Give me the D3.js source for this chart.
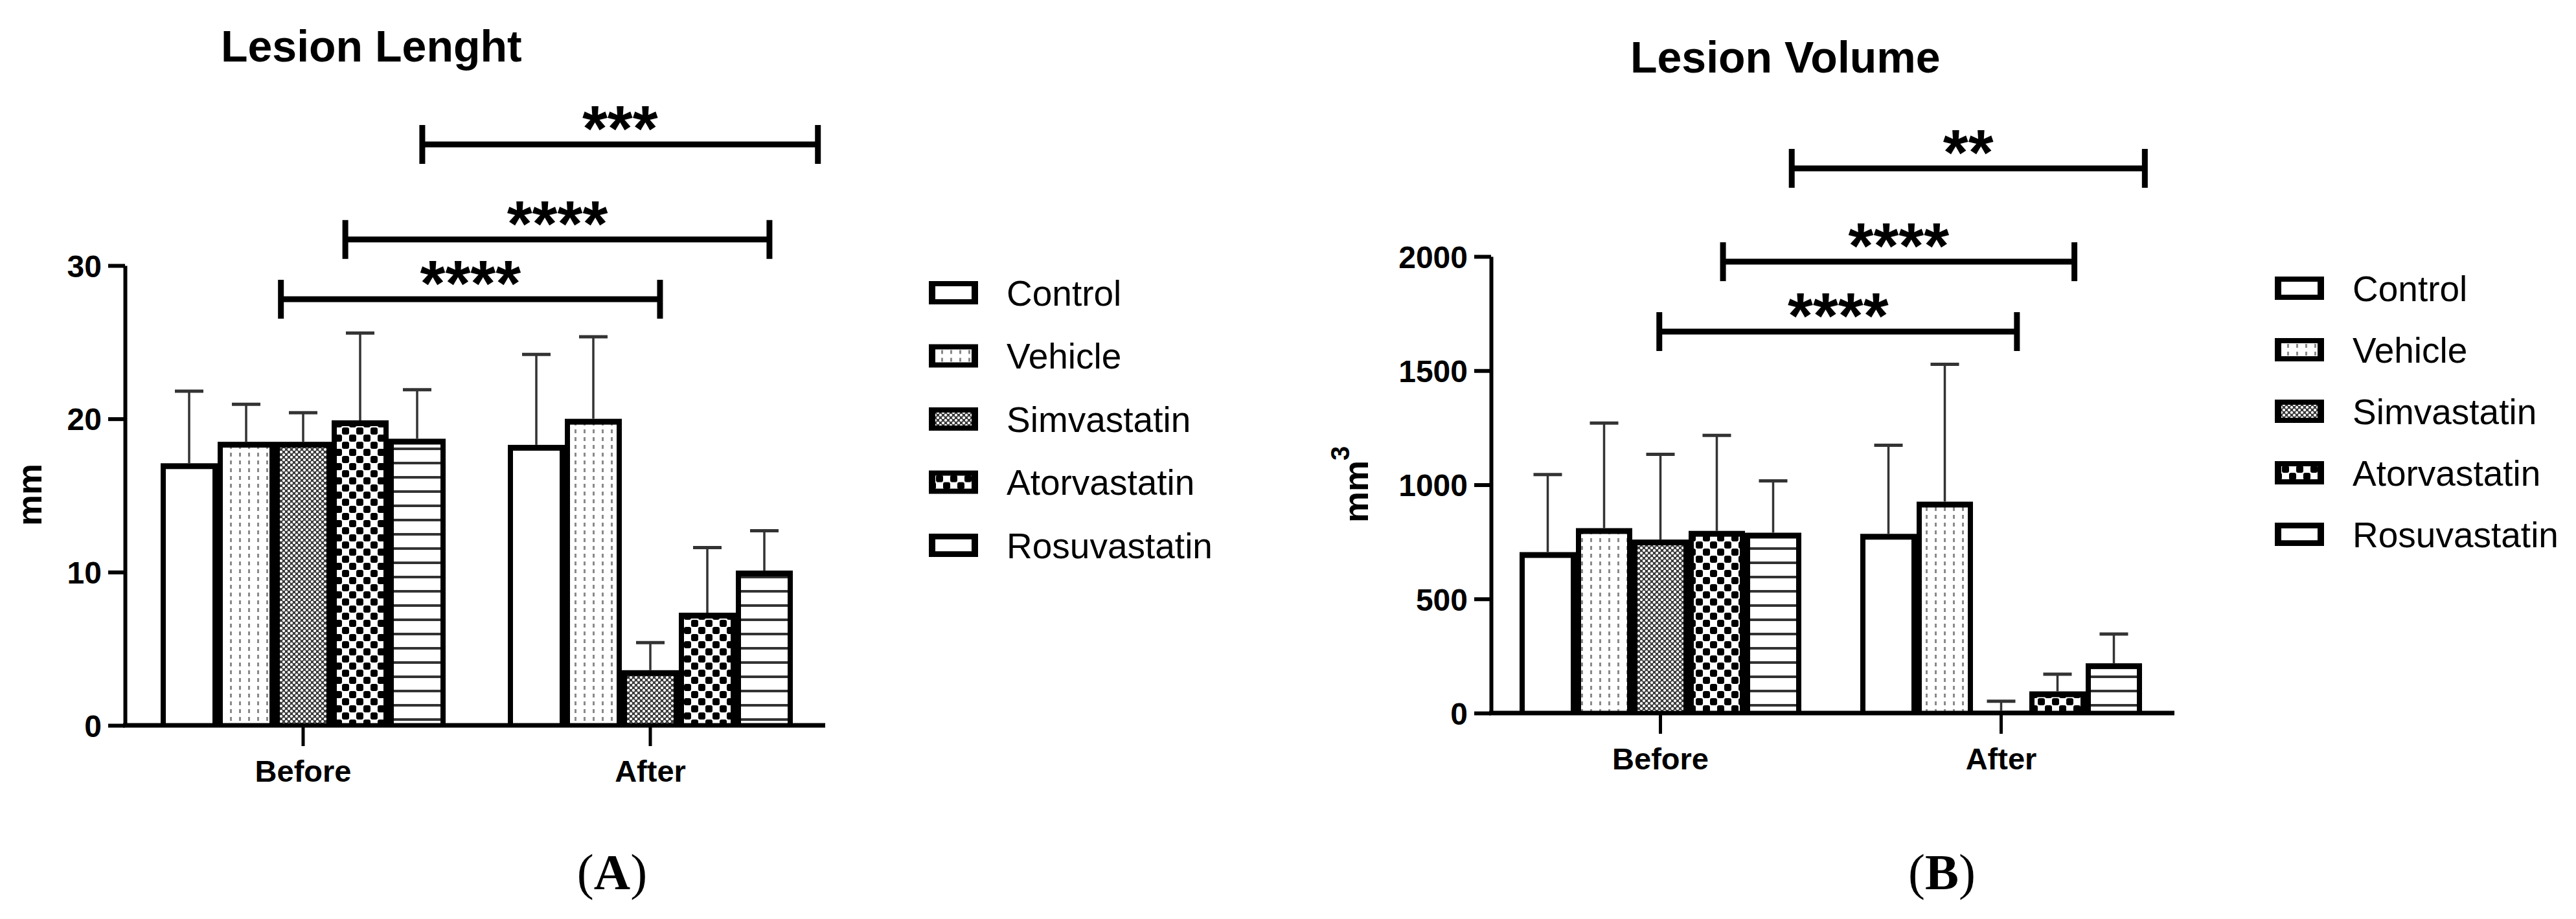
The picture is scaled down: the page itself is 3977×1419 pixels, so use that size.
<!DOCTYPE html>
<html>
<head>
<meta charset="utf-8">
<title>Lesion Lenght / Lesion Volume</title>
<style>
  body { margin: 0; background: #fff; }
  svg { display: block; background: #fff; font-family: "Liberation Sans", Arial, sans-serif; }
</style>
</head>
<body>
<svg width="3977" height="1419"></svg>
<script src="https://cdn.jsdelivr.net/npm/d3@7"></script>
<script>
var groups = ['Before', 'After'];
var series = ['Control', 'Vehicle', 'Simvastatin', 'Atorvastatin', 'Rosuvastatin'];

// Lesion length (mm): mean and upper SD
var lengthBefore = [17.1, 18.5, 18.5, 19.9, 18.7];
var lengthBeforeSd = [4.7, 2.45, 1.9, 5.7, 3.2];
var lengthAfter = [18.3, 20.0, 3.6, 7.35, 10.1];
var lengthAfterSd = [5.9, 5.35, 1.8, 4.25, 2.6];
var lengthTicks = [0, 10, 20, 30];

// Lesion volume (mm3): mean and upper SD
var volumeBefore = [705, 810, 760, 798, 790];
var volumeBeforeSd = [340, 460, 373, 418, 227];
var volumeAfter = [785, 926, 10, 95, 218];
var volumeAfterSd = [388, 602, 42, 75, 128];
var volumeTicks = [0, 500, 1000, 1500, 2000];

// significance brackets: from group + bar slot, to group + bar slot, height (data units), label
var lengthSig = [
  ['Before', 2.11, 'After', 2.67, 27.8, '****'],
  ['Before', 3.24, 'After', 4.59, 31.7, '****'],
  ['Before', 4.59, 'After', 5.44, 37.9, '***']
];
var volumeSig = [
  ['Before', 2.48, 'After', 2.78, 1671, '****'],
  ['Before', 3.61, 'After', 3.80, 1977, '****'],
  ['Before', 4.83, 'After', 5.05, 2386, '**']
];

var svg = d3.select('svg');
var defs = svg.append('defs');

function pattern(id, w, h, bg) {
  var p = defs.append('pattern').attr('id', id)
    .attr('patternUnits', 'userSpaceOnUse')
    .attr('width', w).attr('height', h);
  p.append('rect').attr('width', w).attr('height', h).attr('fill', bg);
  return p;
}

pattern('p-Control', 10, 10, '#fff');
pattern('p-Vehicle', 14, 12, '#fff')
  .append('rect').attr('x', 5).attr('y', 3).attr('width', 3).attr('height', 6).attr('fill', '#8a8a8a');
var ps = pattern('p-Simvastatin', 8, 8, '#3c3c3c');
ps.append('circle').attr('cx', 2).attr('cy', 2).attr('r', 2.1).attr('fill', '#fff');
ps.append('circle').attr('cx', 6).attr('cy', 6).attr('r', 2.1).attr('fill', '#fff');
var pa = pattern('p-Atorvastatin', 22, 22, '#fff');
pa.append('rect').attr('x', 0).attr('y', 0).attr('width', 11).attr('height', 11).attr('rx', 3).attr('fill', '#000');
pa.append('rect').attr('x', 11).attr('y', 11).attr('width', 11).attr('height', 11).attr('rx', 3).attr('fill', '#000');
pattern('p-Rosuvastatin', 22, 22, '#fff')
  .append('rect').attr('x', 0).attr('y', 9).attr('width', 22).attr('height', 4).attr('fill', '#333');

function drawPanel(cfg) {
  var g = svg.append('g');

  var x0 = d3.scaleBand().domain(groups)
    .range([cfg.bandStart, cfg.bandStart + cfg.step + cfg.bandW])
    .paddingInner(1 - cfg.bandW / cfg.step);
  var x1 = d3.scaleBand().domain(series).range([0, x0.bandwidth()]);
  var y = d3.scaleLinear().domain([0, d3.max(cfg.ticks)]).range([cfg.y0, cfg.yTop]);

  var rows = [];
  groups.forEach(function(gr, gi) {
    series.forEach(function(s, si) {
      rows.push({ group: gr, series: s, value: cfg.means[gi][si], sd: cfg.sds[gi][si] });
    });
  });

  var bw = x1.bandwidth();
  var side = 8, top = 9;

  // bars: black frame + patterned inside
  var bar = g.selectAll('g.bar').data(rows).enter().append('g').attr('class', 'bar');
  bar.append('rect')
    .attr('x', function(d) { return x0(d.group) + x1(d.series); })
    .attr('y', function(d) { return y(d.value); })
    .attr('width', bw)
    .attr('height', function(d) { return cfg.y0 - y(d.value); })
    .attr('fill', '#000');
  bar.filter(function(d) { return cfg.y0 - y(d.value) > top; }).append('rect')
    .attr('x', function(d) { return x0(d.group) + x1(d.series) + side; })
    .attr('y', function(d) { return y(d.value) + top; })
    .attr('width', bw - 2 * side)
    .attr('height', function(d) { return cfg.y0 - y(d.value) - top; })
    .attr('fill', function(d) { return 'url(#p-' + d.series + ')'; });

  // error bars (upper only)
  bar.append('line')
    .attr('x1', function(d) { return x0(d.group) + x1(d.series) + bw / 2; })
    .attr('x2', function(d) { return x0(d.group) + x1(d.series) + bw / 2; })
    .attr('y1', function(d) { return y(d.value); })
    .attr('y2', function(d) { return y(d.value + d.sd); })
    .attr('stroke', '#333').attr('stroke-width', 3.5);
  bar.append('line')
    .attr('x1', function(d) { return x0(d.group) + x1(d.series) + bw / 2 - 22; })
    .attr('x2', function(d) { return x0(d.group) + x1(d.series) + bw / 2 + 22; })
    .attr('y1', function(d) { return y(d.value + d.sd); })
    .attr('y2', function(d) { return y(d.value + d.sd); })
    .attr('stroke', '#333').attr('stroke-width', 5);

  // y axis
  var ya = g.append('g').attr('transform', 'translate(' + cfg.axisX0 + ',0)')
    .call(d3.axisLeft(y).tickValues(cfg.ticks).tickFormat(d3.format('d'))
      .tickSize(26).tickPadding(10).tickSizeOuter(0));
  ya.select('.domain').attr('stroke', '#000').attr('stroke-width', 6);
  ya.selectAll('.tick line').attr('stroke', '#000').attr('stroke-width', 6);
  ya.selectAll('.tick text').attr('font-family', '"Liberation Sans", Arial, sans-serif')
    .attr('font-size', 48).attr('font-weight', 'bold').attr('fill', '#000').attr('dy', '0.36em');

  // x axis: baseline across the plot, ticks at group centres
  g.append('line')
    .attr('x1', cfg.axisX0 - 3).attr('x2', cfg.axisX1)
    .attr('y1', cfg.y0).attr('y2', cfg.y0)
    .attr('stroke', '#000').attr('stroke-width', 7);
  var xa = g.append('g').attr('transform', 'translate(0,' + cfg.y0 + ')')
    .call(d3.axisBottom(x0).tickSize(32).tickPadding(22).tickSizeOuter(0));
  xa.select('.domain').remove();
  xa.selectAll('.tick line').attr('stroke', '#000').attr('stroke-width', 5);
  xa.selectAll('.tick text').attr('font-family', '"Liberation Sans", Arial, sans-serif')
    .attr('font-size', 47).attr('font-weight', 'bold').attr('fill', '#000');

  // y label
  var yl = g.append('text')
    .attr('transform', 'translate(' + cfg.ylabX + ',' + cfg.ylabY + ') rotate(-90)')
    .attr('font-size', 54).attr('font-weight', 'bold');
  yl.append('tspan').text('mm');
  if (cfg.cube) {
    yl.append('tspan').attr('dy', -29).attr('font-size', 40).text('3');
  }

  // title
  g.append('text').attr('x', cfg.titleX).attr('y', cfg.titleY)
    .attr('font-size', 68).attr('font-weight', 'bold').text(cfg.title);

  // significance brackets
  var sig = g.selectAll('g.sig').data(cfg.sig).enter().append('g').attr('class', 'sig');
  function sx(gr, slot) { return x0(gr) + slot * bw; }
  sig.append('line')
    .attr('x1', function(d) { return sx(d[0], d[1]); })
    .attr('x2', function(d) { return sx(d[2], d[3]); })
    .attr('y1', function(d) { return y(d[4]); })
    .attr('y2', function(d) { return y(d[4]); })
    .attr('stroke', '#000').attr('stroke-width', 9);
  [0, 2].forEach(function(k) {
    sig.append('line')
      .attr('x1', function(d) { return sx(d[k], d[k + 1]); })
      .attr('x2', function(d) { return sx(d[k], d[k + 1]); })
      .attr('y1', function(d) { return y(d[4]) - 30; })
      .attr('y2', function(d) { return y(d[4]) + 30; })
      .attr('stroke', '#000').attr('stroke-width', 9);
  });
  sig.append('text')
    .attr('x', function(d) { return (sx(d[0], d[1]) + sx(d[2], d[3])) / 2; })
    .attr('y', function(d) { return y(d[4]) + 10; })
    .attr('text-anchor', 'middle')
    .attr('font-size', 100).attr('font-weight', 'bold')
    .text(function(d) { return d[5]; });

  // legend
  var lg = g.selectAll('g.leg').data(series).enter().append('g').attr('class', 'leg')
    .attr('transform', function(d, i) { return 'translate(' + cfg.legX + ',' + (cfg.legY + i * cfg.legStep) + ')'; });
  lg.append('rect').attr('x', 0).attr('y', -18).attr('width', 76).attr('height', 36).attr('fill', '#000');
  lg.append('rect').attr('x', 10).attr('y', -10).attr('width', 56).attr('height', 20)
    .attr('fill', function(d) { return 'url(#p-' + d + ')'; });
  lg.append('text').attr('x', 120).attr('y', 0).attr('dy', '0.36em')
    .attr('font-size', 55).text(function(d) { return d; });

  // panel letter
  var pl = g.append('text').attr('x', cfg.letterX).attr('y', 1373)
    .attr('text-anchor', 'middle')
    .attr('font-family', '"Liberation Serif", "Times New Roman", serif')
    .attr('font-size', 78);
  pl.append('tspan').text('(');
  pl.append('tspan').attr('font-weight', 'bold').text(cfg.letter);
  pl.append('tspan').text(')');
}

drawPanel({
  title: 'Lesion Lenght', titleX: 341, titleY: 95,
  means: [lengthBefore, lengthAfter], sds: [lengthBeforeSd, lengthAfterSd],
  ticks: lengthTicks, sig: lengthSig,
  axisX0: 193, axisX1: 1274, bandStart: 248, step: 536, bandW: 440,
  y0: 1120, yTop: 410,
  ylabX: 64, ylabY: 812, cube: false,
  legX: 1434, legY: 452, legStep: 97.5,
  letter: 'A', letterX: 945
});

drawPanel({
  title: 'Lesion Volume', titleX: 2517, titleY: 112,
  means: [volumeBefore, volumeAfter], sds: [volumeBeforeSd, volumeAfterSd],
  ticks: volumeTicks, sig: volumeSig,
  axisX0: 2302, axisX1: 3357, bandStart: 2346, step: 526, bandW: 435,
  y0: 1101, yTop: 396,
  ylabX: 2112, ylabY: 807, cube: true,
  legX: 3512, legY: 445, legStep: 95,
  letter: 'B', letterX: 2998
});
</script>
</body>
</html>
